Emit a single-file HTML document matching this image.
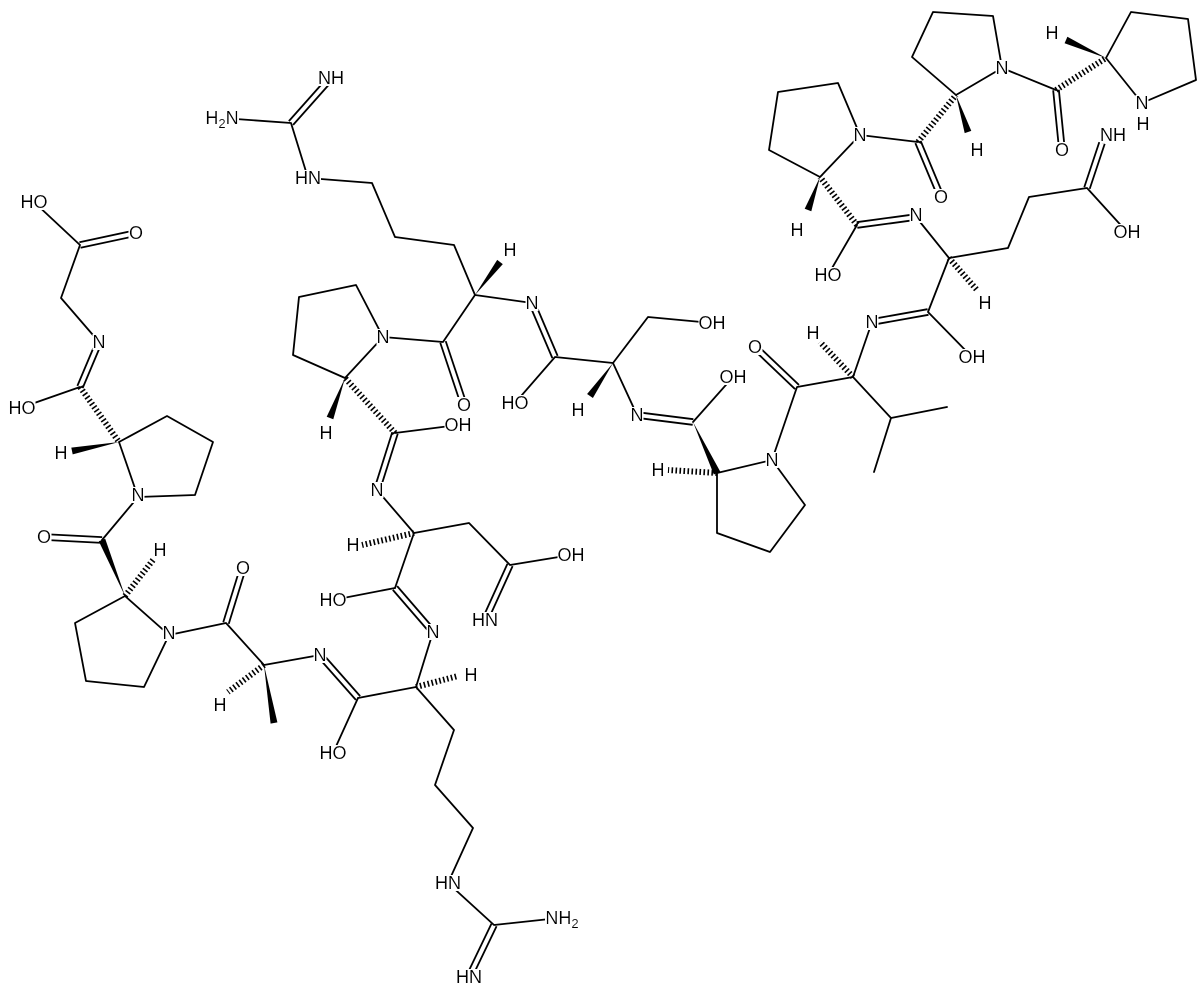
<!DOCTYPE html>
<html><head><meta charset="utf-8"><style>
html,body{margin:0;padding:0;background:#fff;}
svg{display:block;}
.b line,.b polyline{stroke:#000;stroke-width:1.8;fill:none;stroke-linecap:round;stroke-linejoin:round;}
.d line{stroke:#000;stroke-width:7.5;stroke-linecap:butt;}
.dw line{stroke:#fff;stroke-width:3.9;stroke-linecap:butt;}
.h line{stroke:#000;stroke-width:6;stroke-dasharray:1.6 2.4;stroke-linecap:butt;}
.w polygon{fill:#000;}
text{font-family:"Liberation Sans",Arial,sans-serif;font-size:18px;fill:#000;text-anchor:middle;dominant-baseline:central;filter:url(#bg);}
</style></head><body>
<svg width="1200" height="992" viewBox="0 0 1200 992" xmlns="http://www.w3.org/2000/svg">
<defs><filter id="bg" x="0" y="0.1" width="1" height="0.8"><feFlood flood-color="#fff"/><feComposite in="SourceGraphic"/></filter></defs>
<g class="d">
<line x1="80" y1="245" x2="136" y2="233"/><line x1="99" y1="342" x2="80" y2="387"/>
<line x1="102" y1="540" x2="44" y2="537"/><line x1="226" y1="623" x2="243" y2="568"/>
<line x1="320" y1="655" x2="358" y2="698"/><line x1="494" y1="925" x2="469" y2="977"/>
<line x1="433" y1="632" x2="395" y2="588"/><line x1="510" y1="565" x2="485" y2="620"/>
<line x1="377" y1="490" x2="395" y2="433"/><line x1="443" y1="342" x2="464" y2="405"/>
<line x1="291" y1="123" x2="331" y2="78"/><line x1="532" y1="303" x2="555" y2="357"/>
<line x1="637" y1="415" x2="693" y2="422"/><line x1="797" y1="387" x2="755" y2="347"/>
<line x1="872" y1="322" x2="928" y2="312"/><line x1="1087" y1="188" x2="1102" y2="143"/>
<line x1="916" y1="217" x2="857" y2="225"/><line x1="918" y1="142" x2="941" y2="197"/>
<line x1="1056" y1="90" x2="1062" y2="150"/>
</g>
<g class="dw">
<line x1="80" y1="245" x2="136" y2="233"/><line x1="99" y1="342" x2="80" y2="387"/>
<line x1="102" y1="540" x2="44" y2="537"/><line x1="226" y1="623" x2="243" y2="568"/>
<line x1="320" y1="655" x2="358" y2="698"/><line x1="494" y1="925" x2="469" y2="977"/>
<line x1="433" y1="632" x2="395" y2="588"/><line x1="510" y1="565" x2="485" y2="620"/>
<line x1="377" y1="490" x2="395" y2="433"/><line x1="443" y1="342" x2="464" y2="405"/>
<line x1="291" y1="123" x2="331" y2="78"/><line x1="532" y1="303" x2="555" y2="357"/>
<line x1="637" y1="415" x2="693" y2="422"/><line x1="797" y1="387" x2="755" y2="347"/>
<line x1="872" y1="322" x2="928" y2="312"/><line x1="1087" y1="188" x2="1102" y2="143"/>
<line x1="916" y1="217" x2="857" y2="225"/><line x1="918" y1="142" x2="941" y2="197"/>
<line x1="1056" y1="90" x2="1062" y2="150"/>
</g>
<g class="b">
<polyline points="34,202 80,245 61,298 99,342"/>
<line x1="80" y1="387" x2="20" y2="408"/>
<polyline points="119,442 167,416 213,442 195,495 138,497 119,442"/>
<line x1="138" y1="497" x2="102" y2="540"/>
<polyline points="125,596 75,623 86,681 144,687 169,635 125,596"/>
<polyline points="169,635 226,623 264,665 320,655"/>
<polyline points="358,698 333,753"/>
<polyline points="358,698 416,687 433,632"/>
<polyline points="416,687 454,730 435,785 473,828 448,883 494,925 559,918"/>
<polyline points="395,588 333,600"/>
<polyline points="395,588 414,533 377,490"/>
<polyline points="414,533 469,523 510,565 571,555"/>
<line x1="395" y1="433" x2="458" y2="425"/>
<polyline points="345,378 293,355 299,297 356,285 383,337 345,378"/>
<polyline points="383,337 443,342 475,295 532,303"/>
<polyline points="475,295 454,245 395,237 372,183 308,178 291,123 222,118"/>
<polyline points="515,403 555,357 613,363 637,415"/>
<polyline points="613,363 648,317 712,323"/>
<line x1="693" y1="422" x2="733" y2="377"/>
<polyline points="717,473 772,460 805,505 770,552 717,533 717,473"/>
<polyline points="772,460 797,387 853,377 872,322"/>
<polyline points="853,377 891,418 947,407"/><line x1="891" y1="418" x2="874" y2="472"/>
<polyline points="972,357 928,312 949,258 916,217"/>
<polyline points="949,258 1008,248 1029,197 1087,188 1127,232"/>
<line x1="857" y1="225" x2="828" y2="275"/>
<polyline points="820,177 769,150 778,92 838,83 860,135 820,177"/>
<line x1="860" y1="135" x2="918" y2="142"/>
<polyline points="956,95 912,57 933,12 993,16 1002,68 956,95"/>
<line x1="1002" y1="68" x2="1056" y2="90"/>
<polyline points="1106,58 1131,12 1188,19 1196,80 1142,103 1106,58"/>
</g>
<g class="h">
<line x1="80" y1="387" x2="119" y2="442"/><line x1="125" y1="596" x2="153" y2="560"/>
<line x1="264" y1="665" x2="228" y2="692"/><line x1="416" y1="687" x2="458" y2="676"/>
<line x1="414" y1="533" x2="362" y2="545"/><line x1="395" y1="433" x2="345" y2="378"/>
<line x1="717" y1="473" x2="668" y2="470"/><line x1="853" y1="377" x2="820" y2="342"/>
<line x1="949" y1="258" x2="977" y2="290"/><line x1="857" y1="225" x2="820" y2="177"/>
<line x1="918" y1="142" x2="956" y2="95"/><line x1="1056" y1="90" x2="1106" y2="58"/>
</g>
<g class="w">
<polygon points="119,442 72.7,454.4 71.3,447.6"/>
<polygon points="125,596 105.2,538.7 98.8,541.3"/>
<polygon points="264,665 277.4,722.4 270.6,723.6"/>
<polygon points="345,378 333.3,419.2 326.7,416.8"/>
<polygon points="475,295 502.8,264.1 497.2,259.9"/>
<polygon points="613,363 592.9,398 587.1,394"/>
<polygon points="693,422 720.2,471.5 713.8,474.5"/>
<polygon points="820,177 811.3,211.2 804.7,208.8"/>
<polygon points="956,95 971.3,130.9 964.7,133.1"/>
<polygon points="1106,58 1067.4,36.8 1064.6,43.2"/>
</g>
<g>
<text x="34" y="202">HO</text><text x="136" y="233">O</text><text x="99" y="342">N</text>
<text x="22" y="408">HO</text><text x="61" y="453">H</text><text x="138" y="495">N</text>
<text x="44" y="537">O</text><text x="160" y="550">H</text><text x="169" y="633">N</text>
<text x="243" y="568">O</text><text x="220" y="705">H</text><text x="320" y="655">N</text>
<text x="333" y="753">HO</text><text x="471" y="675">H</text><text x="433" y="632">N</text>
<text x="448" y="883">HN</text><text x="562" y="918">NH<tspan font-size="13" dy="5">2</tspan></text>
<text x="469" y="977">HN</text>
<text x="333" y="600">HO</text><text x="353" y="545">H</text><text x="571" y="555">OH</text>
<text x="485" y="620">HN</text><text x="377" y="490">N</text><text x="458" y="425">OH</text>
<text x="326" y="433">H</text><text x="383" y="337">N</text><text x="464" y="405">O</text>
<text x="510" y="250">H</text><text x="308" y="178">HN</text>
<text x="222" y="118">H<tspan font-size="13" dy="5">2</tspan><tspan dy="-5">N</tspan></text>
<text x="331" y="78">NH</text>
<text x="532" y="303">N</text><text x="515" y="403">HO</text><text x="578" y="410">H</text>
<text x="712" y="323">OH</text><text x="637" y="415">N</text><text x="733" y="377">OH</text>
<text x="658" y="470">H</text><text x="772" y="460">N</text><text x="755" y="347">O</text>
<text x="813" y="333">H</text><text x="872" y="322">N</text><text x="972" y="357">OH</text>
<text x="985" y="303">H</text><text x="916" y="215">N</text><text x="1113" y="135">NH</text>
<text x="1127" y="232">OH</text><text x="828" y="275">HO</text><text x="797" y="230">H</text>
<text x="860" y="135">N</text><text x="941" y="197">O</text><text x="977" y="150">H</text>
<text x="1002" y="68">N</text><text x="1062" y="150">O</text><text x="1052" y="33">H</text>
<text x="1142" y="103">N</text><text x="1143" y="124">H</text>
</g>
</svg>
</body></html>
